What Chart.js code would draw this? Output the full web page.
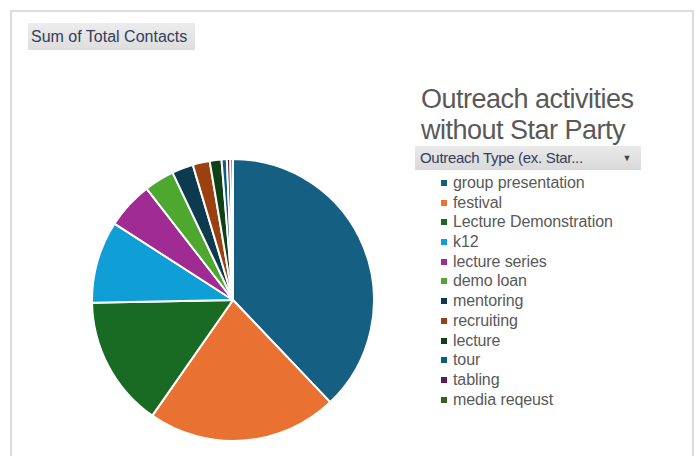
<!DOCTYPE html>
<html>
<head>
<meta charset="utf-8">
<script src="https://cdn.jsdelivr.net/npm/chart.js@4/dist/chart.umd.min.js"></script>
<style>
  body { margin: 0; width: 699px; height: 456px; background: #fff; overflow: hidden;
         font-family: "Liberation Sans", Arial, sans-serif; }
  #frame { position: absolute; left: 10px; top: 10px; width: 680px; height: 460px;
           border-left: 2px solid #dcdcdc; border-top: 2px solid #dcdcdc; border-right: 2px solid #dcdcdc; }
  #fieldBtn { position: absolute; left: 28px; top: 23px; width: 167px; height: 27px;
              background: linear-gradient(#ececec, #dedede); color: #353c5c; font-size: 16px;
              line-height: 27px; text-indent: 3px; letter-spacing: 0px; }
  #title { position: absolute; left: 421px; top: 84px; color: #595959; font-size: 27px;
           line-height: 31px; letter-spacing: -0.5px; }
  #filterBtn { position: absolute; left: 415px; top: 146px; width: 226px; height: 24px;
               background: linear-gradient(#eaeaea, #d9d9d9); color: #353c5c; font-size: 15px;
               line-height: 24px; text-indent: 5px; letter-spacing: -0.3px; }
  #filterBtn span { position: absolute; right: 10px; top: 0; font-size: 9px; color: #444; }
  #legend { position: absolute; left: 441px; top: 173px; }
  .item { height: 19.7px; line-height: 19.7px; font-size: 16px; color: #595959; letter-spacing: -0.1px;
          white-space: nowrap; }
  .item i { display: inline-block; width: 6px; height: 6px; margin-right: 6px; vertical-align: 2px; }
  #pieBox { position: absolute; left: 91px; top: 158px; width: 284px; height: 284px; }
</style>
</head>
<body>
<div id="frame"></div>
<div id="fieldBtn">Sum of Total Contacts</div>
<div id="title">Outreach activities<br>without Star Party</div>
<div id="filterBtn">Outreach Type (ex. Star...<span>&#9660;</span></div>
<div id="legend"></div>
<div id="pieBox"><canvas id="pieChart"></canvas></div>
<script>
// Outreach types and their total contacts
const outreachTypes = ['group presentation', 'festival', 'Lecture Demonstration', 'k12', 'lecture series',
    'demo loan', 'mentoring', 'recruiting', 'lecture', 'tour', 'tabling', 'media reqeust'];
const totalContacts = [3790, 2180, 1500, 940, 540, 345, 245, 195, 135, 60, 40, 30];
const sliceColors = ['#156082', '#E97132', '#196B24', '#0F9ED5', '#A02B93', '#4EA72E',
    '#0D3A4E', '#9A4011', '#0F4016', '#095F80', '#601A58', '#2F641C'];

function buildLegend() {
    const box = document.getElementById('legend');
    outreachTypes.forEach(function(name, i) {
        const row = document.createElement('div');
        row.className = 'item';
        row.innerHTML = '<i style="background:' + sliceColors[i] + '"></i>' + name;
        box.appendChild(row);
    });
}

function initPie() {
    const ctx = document.getElementById('pieChart');
    new Chart(ctx.getContext('2d'), {
        type: 'pie',
        data: {
            labels: outreachTypes,
            datasets: [{
                data: totalContacts,
                backgroundColor: sliceColors,
                borderColor: '#ffffff',
                borderWidth: 2,
                hoverOffset: 0
            }]
        },
        options: {
            responsive: true,
            maintainAspectRatio: false,
            animation: false,
            layout: { padding: 0 },
            plugins: {
                legend: { display: false },
                tooltip: { enabled: false }
            }
        }
    });
}

buildLegend();
initPie();
</script>
</body>
</html>
